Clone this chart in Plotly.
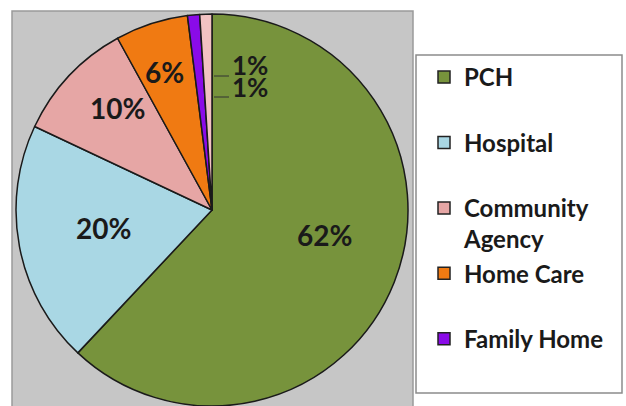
import math
import plotly.graph_objects as go

# ---- data ----
categories = ["PCH", "Hospital", "Community Agency", "Home Care", "Family Home", "Other"]
values = [62, 20, 10, 6, 1, 1]
colors = ["#77933C", "#A9D7E4", "#E6A6A5", "#F07A12", "#8A0BE8", "#F2C2C2"]
legend_categories = ["PCH", "Hospital", "Community Agency", "Home Care", "Family Home"]
legend_labels = ["PCH", "Hospital", "Community<br>Agency", "Home Care", "Family Home"]
small_label_index = [4, 5]
# placement of inside labels: fraction of radius and angular nudge (degrees)
label_radius = [0.59, 0.56, 0.71, 0.745, None, None]
label_nudge = [-9.0, 1.4, 4.0, -0.8, 0, 0]

W, H = 626, 406
FONT = "Lato"
CX, CY, R = 212, 210, 196

fig = go.Figure()

fig.add_trace(go.Pie(
    labels=categories,
    values=values,
    sort=False,
    direction="clockwise",
    rotation=0,
    marker=dict(colors=colors, line=dict(color="#1a1a1a", width=1.5)),
    textinfo="none",
    domain=dict(x=[(CX - R) / W, (CX + R) / W], y=[1 - (CY + R) / H, 1 - (CY - R) / H]),
    showlegend=False,
    hoverinfo="label+percent",
))

# legend entries (one trace per legend item)
for i, name in enumerate(legend_categories):
    lbl = legend_labels[i]
    if "<br>" not in lbl:
        lbl = lbl + "<br>\u00a0"
    fig.add_trace(go.Scatter(
        x=[None], y=[None], mode="markers", name=lbl,
        legendgroup=f"g{i}",
        marker=dict(symbol="square", size=12, color=colors[i],
                    line=dict(color="#222222", width=1.5)),
    ))

total = sum(values)
shapes = [
    # gray plot area
    dict(type="rect", xref="paper", yref="paper",
         x0=12 / W, x1=413 / W, y0=-0.01, y1=1 - 11 / H,
         fillcolor="#C6C6C6", line=dict(color="#9A9A9A", width=1.5), layer="below"),
    # legend box
    dict(type="rect", xref="paper", yref="paper",
         x0=416 / W, x1=622 / W, y0=1 - 393 / H, y1=1 - 55 / H,
         fillcolor="white", line=dict(color="#8C8C8C", width=1.5), layer="below"),
]
annotations = []
label_font = dict(family=FONT, size=28, color="#1a1a1a", weight="bold")

cum = 0
for i, v in enumerate(values):
    mid = (cum + v / 2) / total * 2 * math.pi + math.radians(label_nudge[i])
    cum += v
    if label_radius[i] is None:
        continue
    rr = R * label_radius[i]
    px = CX + rr * math.sin(mid)
    py = CY - rr * math.cos(mid)
    annotations.append(dict(
        xref="paper", yref="paper", x=px / W, y=1 - py / H,
        xanchor="center", yanchor="middle", showarrow=False,
        text=f"{round(v / total * 100)}%", font=label_font,
    ))

label_pos = [(230, 65), (230, 87)]
line_y = [76, 97]
for k, idx in enumerate(small_label_index):
    pct = round(values[idx] / total * 100)
    lx, ly = label_pos[k]
    annotations.append(dict(
        xref="paper", yref="paper", x=lx / W, y=1 - ly / H,
        xanchor="left", yanchor="middle", showarrow=False,
        text=f"{pct}%", font=dict(family=FONT, size=26, color="#1a1a1a", weight="bold"),
    ))
    shapes.append(dict(type="line", xref="paper", yref="paper",
                       x0=214 / W, x1=229 / W, y0=1 - line_y[k] / H, y1=1 - line_y[k] / H,
                       line=dict(color="#333333", width=1)))

fig.update_layout(
    width=W, height=H,
    margin=dict(l=0, r=0, t=0, b=0),
    paper_bgcolor="white",
    plot_bgcolor="rgba(0,0,0,0)",
    xaxis=dict(visible=False),
    yaxis=dict(visible=False),
    shapes=shapes,
    annotations=annotations,
    legend=dict(
        x=424 / W, y=1 - 55 / H, xanchor="left", yanchor="top",
        bgcolor="rgba(0,0,0,0)", borderwidth=0,
        font=dict(family=FONT, size=24, color="#1a1a1a", weight="bold"),
        tracegroupgap=2, valign="top", traceorder="normal",
    ),
)

fig.write_html("out.html", config={"displayModeBar": False},
               post_script="document.body.style.margin='0';")
